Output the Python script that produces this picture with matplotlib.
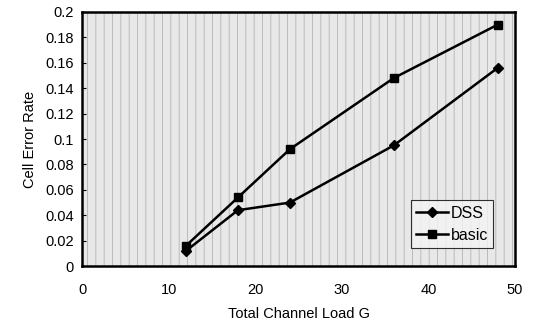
import matplotlib
matplotlib.use("Agg")
import matplotlib.pyplot as plt
from matplotlib.patches import Rectangle

plt.rcParams['font.family'] = ['Liberation Sans', 'DejaVu Sans']

load_g = [12, 18, 24, 36, 48]
dss = [0.012, 0.044, 0.050, 0.095, 0.156]
basic = [0.016, 0.054, 0.092, 0.148, 0.190]

x_ticks = [0, 10, 20, 30, 40, 50]
y_ticks = [0, 0.02, 0.04, 0.06, 0.08, 0.1, 0.12, 0.14, 0.16, 0.18, 0.2]
y_labels = ["0", "0.02", "0.04", "0.06", "0.08", "0.1", "0.12", "0.14", "0.16", "0.18", "0.2"]

fig = plt.figure(figsize=(5.34, 3.31), dpi=100)
ax = fig.add_axes([0.1536, 0.196, 0.811, 0.768])

# stippled grey background of the scanned plot area
ax.set_facecolor('#e8e8e8')
plt.rcParams['hatch.linewidth'] = 0.6
ax.add_patch(Rectangle((0, 0), 1, 1, transform=ax.transAxes, facecolor='none',
                       edgecolor='#b4b4b4', hatch='||', linewidth=0, zorder=0))

ax.plot(load_g, dss, color='black', lw=1.8, marker='D', ms=5, label='DSS', zorder=3)
ax.plot(load_g, basic, color='black', lw=1.8, marker='s', ms=6, label='basic', zorder=3)

ax.set_xlim(0, 50)
ax.set_ylim(0, 0.2)
ax.set_xticks(x_ticks)
ax.set_yticks(y_ticks)
ax.set_yticklabels(y_labels)
ax.tick_params(axis='y', direction='in', length=3, labelsize=10.5, pad=6)
ax.tick_params(axis='x', length=0, labelsize=10.5, pad=12)

for s in ax.spines.values():
    s.set_linewidth(1.8)

ax.set_xlabel("Total Channel Load G", fontsize=10.5, labelpad=7)
ax.set_ylabel("Cell Error Rate", fontsize=10.5, labelpad=6)

leg = ax.legend(loc='lower right', bbox_to_anchor=(0.95, 0.07), fontsize=11.5,
                frameon=True, fancybox=False, handlelength=2.0, handletextpad=0.15,
                borderpad=0.35, labelspacing=0.45, borderaxespad=0)
leg.get_frame().set_edgecolor('black')
leg.get_frame().set_linewidth(0.8)
leg.get_frame().set_facecolor('#f4f4f4')

fig.savefig("out.png", dpi=100)
